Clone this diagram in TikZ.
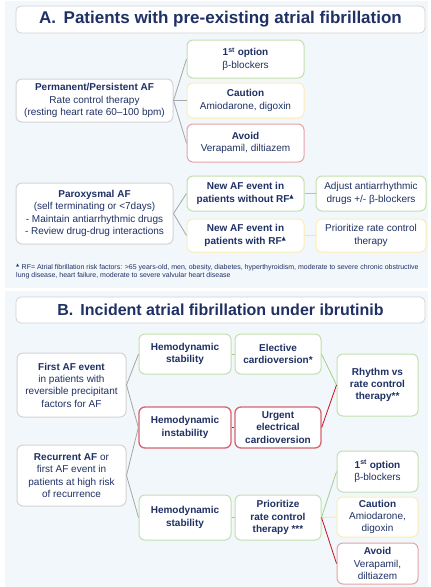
\documentclass[tikz,border=0pt]{standalone}
\usepackage{fontspec}
\setmainfont{Liberation Sans}
\newfontfamily\symfont{DejaVu Sans}
\definecolor{navy}{HTML}{1F3064}
\definecolor{panelbg}{HTML}{F2F7FC}
\definecolor{greyb}{HTML}{D4D4D4}
\definecolor{greenb}{HTML}{C2E0AE}
\definecolor{yellowb}{HTML}{FDEDB2}
\definecolor{redl}{HTML}{E6A2A4}
\definecolor{reds}{HTML}{D5646E}
\definecolor{greyline}{HTML}{A6A6A6}
\definecolor{greenline}{HTML}{A6D08A}
\definecolor{yellowline}{HTML}{FFE48C}
\definecolor{redline}{HTML}{C8101E}
\newcommand{\tri}{\textsuperscript{\symfont\scalebox{0.8}{▲}}}
\begin{document}
\begin{tikzpicture}[x=1pt,y=-1pt,
  box/.style={rectangle,rounded corners=6pt,draw,fill=white,line width=1pt,
    align=center,text=navy,inner sep=1pt,
    font=\fontsize{10}{12.3}\selectfont},
  sz/.style 2 args={minimum width=#1,minimum height=#2},
  gb/.style={box,draw=greyb},
  grb/.style={box,draw=greenb},
  yb/.style={box,draw=yellowb},
  rlb/.style={box,draw=redl},
  rsb/.style={box,draw=reds,line width=1.3pt},
  titlebox/.style={rectangle,rounded corners=5pt,draw=greyb,fill=white,line width=0.8pt,
    text=navy,font=\fontsize{17}{20}\selectfont\bfseries,minimum width=409pt,inner sep=0pt},
  conn/.style={line width=0.8pt},
  cg/.style={conn,draw=greyline},
  cgr/.style={conn,draw=greenline},
  cy/.style={conn,draw=yellowline},
  cr/.style={conn,draw=redline}]
\useasboundingbox (0,0) rectangle (431,587);
% panels
\fill[panelbg] (5,1) rectangle (428,288);
\fill[panelbg] (5,291) rectangle (428,587);
% ---------------- Panel A
\node[titlebox,minimum height=27pt] (tA) at (220.5,19.5) {A.\hspace{7.5pt}Patients with pre-existing atrial fibrillation};
\node[gb,sz={157pt}{43pt}] (perm) at (94.5,100.5) {\textbf{Permanent/Persistent AF}\\Rate control therapy\\(resting heart rate 60–100 bpm)};
\node[grb,sz={117pt}{38pt}] (optA) at (245.5,59) {\textbf{1\textsuperscript{st} option}\\β-blockers};
\node[yb,sz={117pt}{35pt}] (cauA) at (245.5,100.5) {\textbf{Caution}\\Amiodarone, digoxin};
\node[rlb,sz={117pt}{38pt}] (avA) at (245.5,143) {\textbf{Avoid}\\Verapamil, diltiazem};
\node[gb,sz={157pt}{61pt}] (parox) at (94.5,213.5) {\textbf{Paroxysmal AF}\\(self terminating or <7days)\\- Maintain antiarrhythmic drugs\\- Review drug-drug interactions};
\node[grb,sz={117pt}{35pt}] (newA) at (245.5,193.5) {\textbf{New AF event in}\\\textbf{patients without RF}\tri};
\node[yb,sz={117pt}{33pt}] (newB) at (245.5,235.5) {\textbf{New AF event in}\\\textbf{patients with RF}\tri};
\node[grb,sz={110pt}{35pt}] (adj) at (371,193.5) {Adjust antiarrhythmic\\drugs +/- β-blockers};
\node[yb,sz={110pt}{33pt}] (prioA) at (371,235.5) {Prioritize rate control\\therapy};
\draw[cg] (perm.east) -- (optA.west);
\draw[cg] (perm.east) -- (cauA.west);
\draw[cg] (perm.east) -- (avA.west);
\draw[cg] (parox.east) -- (newA.west);
\draw[cg] (parox.east) -- (newB.west);
\draw[cgr] (newA.east) -- (adj.west);
\draw[cy] (newB.east) -- (prioA.west);
\node[anchor=north west,align=left,text=navy,inner sep=0pt,
  font=\fontsize{7}{8}\selectfont] (fn) at (16,263.5)
  {\tri\ RF= Atrial fibrillation risk factors: >65 years-old, men, obesity, diabetes, hyperthyroidism, moderate to severe chronic obstructive\\lung disease, heart failure, moderate to severe valvular heart disease};
% ---------------- Panel B
\node[titlebox,minimum height=26pt,font=\fontsize{16}{19}\selectfont\bfseries] (tB) at (220.5,310) {B.\hspace{7pt}Incident atrial fibrillation under ibrutinib};
\node[gb,sz={109pt}{64pt}] (first) at (71.5,385) {\textbf{First AF event}\\in patients with\\reversible precipitant\\factors for AF};
\node[gb,sz={109pt}{61pt}] (recur) at (71.5,475.5) {\textbf{Recurrent AF} or\\first AF event in\\patients at high risk\\of recurrence};
\node[grb,sz={92pt}{40pt}] (stab1) at (185,354) {\textbf{Hemodynamic}\\\textbf{stability}};
\node[grb,sz={86pt}{40pt}] (elec) at (278,354) {\textbf{Elective}\\\textbf{cardioversion*}};
\node[rsb,sz={92pt}{41pt}] (inst) at (185,427.5) {\textbf{Hemodynamic}\\\textbf{instability}};
\node[rsb,sz={86pt}{41pt}] (urg) at (278,427.5) {\textbf{Urgent}\\\textbf{electrical}\\\textbf{cardioversion}};
\node[grb,sz={81pt}{62pt}] (rhy) at (377.5,385) {\textbf{Rhythm vs}\\\textbf{rate control}\\\textbf{therapy**}};
\node[grb,sz={92pt}{45pt}] (stab2) at (185,517.5) {\textbf{Hemodynamic}\\\textbf{stability}};
\node[grb,sz={86pt}{45pt}] (prioB) at (278,517.5) {\textbf{Prioritize}\\\textbf{rate control}\\\textbf{therapy ***}};
\node[grb,sz={81pt}{41pt}] (optB) at (377.5,471.5) {\textbf{1\textsuperscript{st} option}\\β-blockers};
\node[yb,sz={81pt}{40pt}] (cauB) at (377.5,517) {\textbf{Caution}\\Amiodarone,\\digoxin};
\node[rlb,sz={81pt}{41pt}] (avB) at (377.5,563.5) {\textbf{Avoid}\\Verapamil,\\diltiazem};
\draw[cg] (first.east) -- (stab1.west);
\draw[cg] (first.east) -- (inst.west);
\draw[cg] (recur.east) -- (inst.west);
\draw[cg] (recur.east) -- (stab2.west);
\draw[cgr] (stab1.east) -- (elec.west);
\draw[cr] (inst.east) -- (urg.west);
\draw[cgr] (stab2.east) -- (prioB.west);
\draw[cgr] (elec.east) -- (rhy.west);
\draw[cr] (urg.east) -- (rhy.west);
\draw[cgr] (prioB.east) -- (optB.west);
\draw[cy] (prioB.east) -- (cauB.west);
\draw[cr] (prioB.east) -- (avB.west);
\end{tikzpicture}
\end{document}
